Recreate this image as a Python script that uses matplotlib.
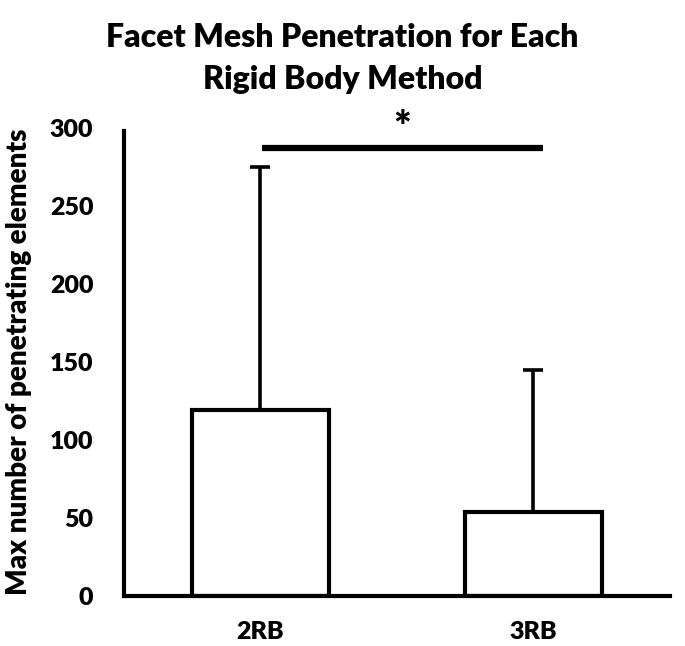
import matplotlib
matplotlib.use("Agg")
import matplotlib.pyplot as plt

# data
groups = ["2RB", "3RB"]
means = [119, 54]
sd_upper = [156, 91]
sig_level = 287

plt.rcParams["font.family"] = ["Lato", "DejaVu Sans"]
WEIGHT = "heavy"

fig = plt.figure(figsize=(6.85, 6.46), dpi=100)
ax = fig.add_axes([0.181, 0.0774, 0.797, 0.7246])

x = range(len(groups))
ax.bar(x, means, width=0.5, color="white", edgecolor="black", linewidth=3, zorder=2)
ax.errorbar(x, means, yerr=[[0] * len(groups), sd_upper], fmt="none",
            ecolor="black", elinewidth=2.6, capsize=7.5, capthick=2.6, zorder=1)

# significance bar
ax.plot([0.005, 1.035], [sig_level, sig_level], color="black", linewidth=4.5,
        solid_capstyle="butt", clip_on=False)
ax.text(0.52, sig_level, "*", ha="center", va="bottom", fontsize=30, fontweight=WEIGHT)

ax.set_xlim(-0.5, 1.5)
ax.set_ylim(0, 300)
ax.set_yticks([0, 50, 100, 150, 200, 250, 300])
ax.set_xticks(list(x))
ax.set_xticklabels(groups)
ax.tick_params(axis="both", length=0, labelsize=18)
ax.tick_params(axis="y", pad=22)
ax.tick_params(axis="x", pad=18)
for lab in ax.get_xticklabels() + ax.get_yticklabels():
    lab.set_fontweight(WEIGHT)

for side in ["top", "right"]:
    ax.spines[side].set_visible(False)
for side in ["left", "bottom"]:
    ax.spines[side].set_linewidth(3)
ax.spines["left"].set_bounds(0, 298)

ax.set_ylabel("Max number of penetrating elements", fontsize=20, fontweight=WEIGHT)
ax.yaxis.set_label_coords(-0.168, 0.5)
fig.suptitle("Facet Mesh Penetration for Each\nRigid Body Method", fontsize=23,
             fontweight=WEIGHT, y=0.965, x=0.5, linespacing=1.55)

fig.savefig("out.png", dpi=100)
